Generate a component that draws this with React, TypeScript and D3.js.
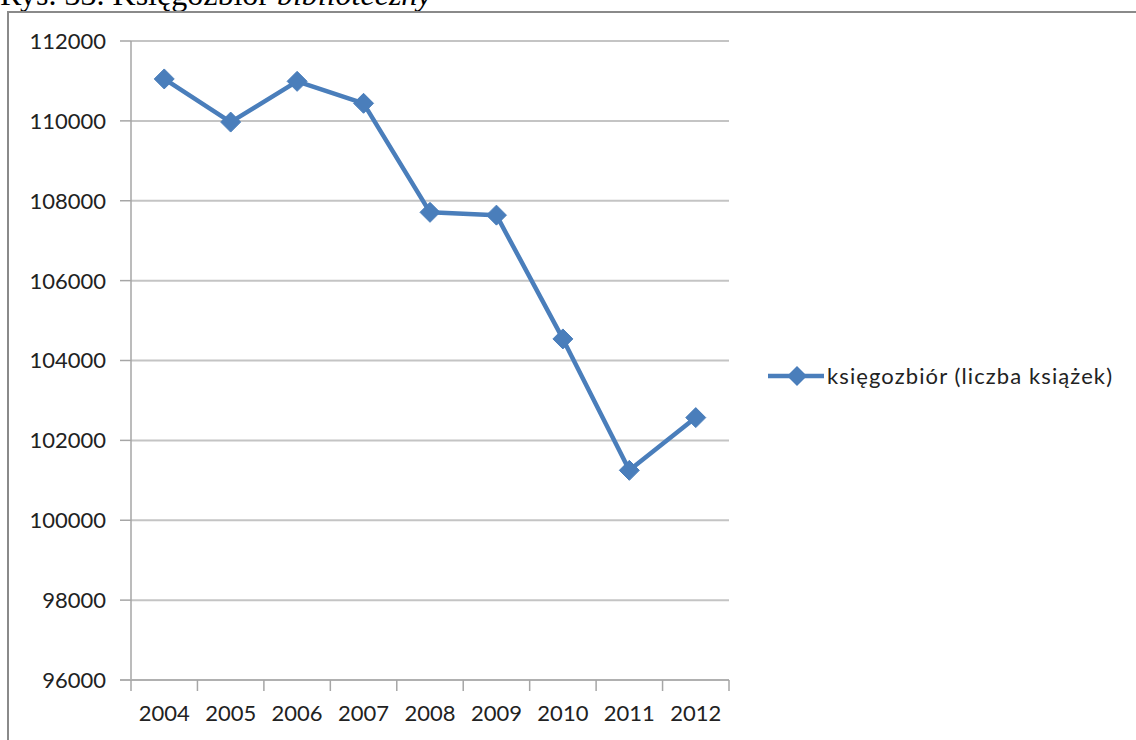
import React from "react";
import * as d3 from "d3";

const years = ["2004", "2005", "2006", "2007", "2008", "2009", "2010", "2011", "2012"];
const books = [111050, 109970, 110990, 110440, 107710, 107640, 104540, 101250, 102570];
const yTicks = [96000, 98000, 100000, 102000, 104000, 106000, 108000, 110000, 112000];
const seriesName = "księgozbiór (liczba książek)";
const captionMain = "Rys. 33. Księgozbiór ";
const captionItalic = "biblioteczny";

const W = 1136;
const H = 740;
const left = 131;
const right = 729;
const top = 41;
const bottom = 680;
const color = "#4a7ebb";
const font = "Lato, 'Open Sans', sans-serif";

export default function App() {
  const x = d3.scaleBand<string>().domain(years).range([left, right]);
  const y = d3.scaleLinear().domain([96000, 112000]).range([bottom, top]);
  const line = d3
    .line<number>()
    .x((_, i) => (x(years[i]) as number) + x.bandwidth() / 2)
    .y((d) => y(d));
  const diamond = (cx: number, cy: number, r: number) =>
    `M${cx},${cy - r}L${cx + r},${cy}L${cx},${cy + r}L${cx - r},${cy}Z`;
  const boundaries = years.map((yr) => x(yr) as number).concat([right]);

  return (
    <svg
      width={W}
      height={H}
      style={{ position: "absolute", left: 0, top: 0, background: "#fff" }}
    >
      <text x={0} y={5} fontFamily="'Liberation Serif', 'Times New Roman', serif" fontSize={32} fill="#000">
        {captionMain}
        <tspan fontStyle="italic">{captionItalic}</tspan>
      </text>
      <rect x={8} y={12} width={1140} height={760} fill="#fff" stroke="#8a8a8a" strokeWidth={2} />
      {yTicks.map((t) => (
        <g key={t}>
          {t !== 96000 && (
            <line x1={left} x2={right} y1={y(t)} y2={y(t)} stroke="#c4c4c4" strokeWidth={2} />
          )}
          <line x1={left - 11} x2={left} y1={y(t)} y2={y(t)} stroke="#a6a6a6" strokeWidth={1.5} />
          <text
            x={106}
            y={y(t)}
            dy="0.36em"
            textAnchor="end"
            fontFamily={font}
            fontSize={22}
            fill="#222"
          >
            {t}
          </text>
        </g>
      ))}
      <line x1={left} x2={left} y1={top} y2={bottom} stroke="#a6a6a6" strokeWidth={1.5} />
      <line x1={left - 11} x2={right} y1={bottom} y2={bottom} stroke="#b0b0b0" strokeWidth={2} />
      {boundaries.map((b, i) => (
        <line key={i} x1={b} x2={b} y1={bottom} y2={bottom + 11} stroke="#a6a6a6" strokeWidth={1.5} />
      ))}
      {years.map((yr) => (
        <text
          key={yr}
          x={(x(yr) as number) + x.bandwidth() / 2}
          y={721}
          textAnchor="middle"
          fontFamily={font}
          fontSize={22}
          fill="#222"
        >
          {yr}
        </text>
      ))}
      <path d={line(books) || ""} fill="none" stroke={color} strokeWidth={4.5} strokeLinejoin="round" />
      {books.map((v, i) => (
        <path
          key={i}
          d={diamond((x(years[i]) as number) + x.bandwidth() / 2, y(v), 10)}
          fill={color}
          stroke={color}
          strokeWidth={1}
        />
      ))}
      <line x1={768} x2={824} y1={376} y2={376} stroke={color} strokeWidth={4.5} />
      <path d={diamond(797, 376, 10)} fill={color} />
      <text x={827} y={376} dy="0.36em" fontFamily={font} fontSize={22} letterSpacing={1.1} fill="#222">
        {seriesName}
      </text>
    </svg>
  );
}
